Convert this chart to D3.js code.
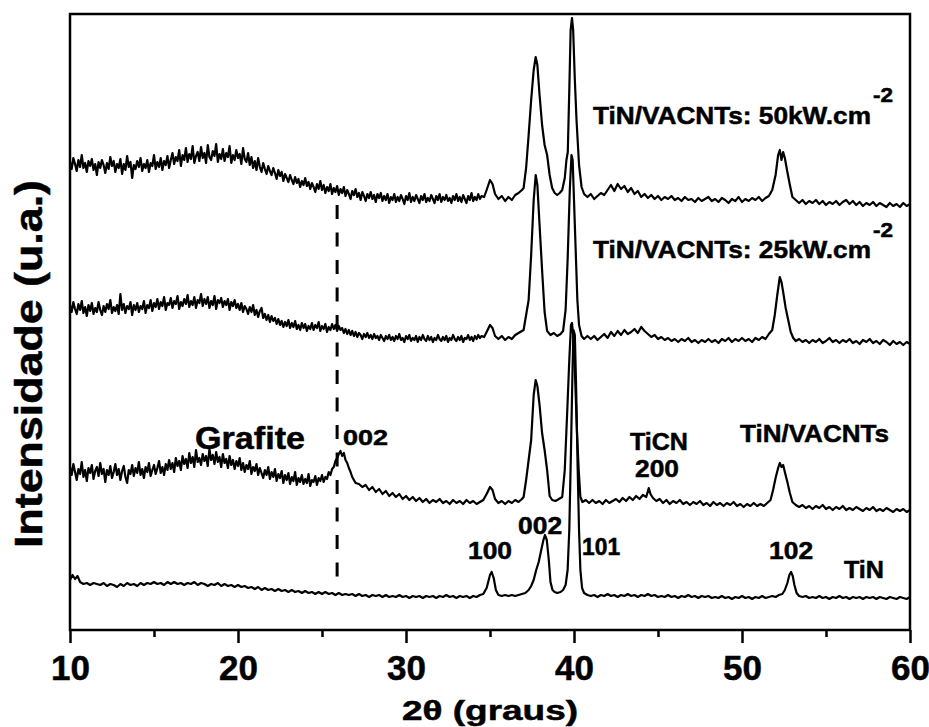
<!DOCTYPE html>
<html>
<head>
<meta charset="utf-8">
<script src="https://cdn.jsdelivr.net/npm/d3@7"></script>
<style>
  html, body { margin: 0; padding: 0; background: #fff; }
  svg { display: block; }
  text { font-family: "Liberation Sans", Arial, sans-serif; font-weight: bold; fill: #000; stroke: #000; stroke-width: 0.5px; }
</style>
</head>
<body>
<svg id="chart" width="929" height="727"></svg>
<script>
// ---------------- DATA (2θ in degrees, intensity in arbitrary units incl. vertical offset) ----------------
const xTicksMajor = [10, 20, 30, 40, 50, 60];
const xTicksMinor = [15, 25, 35, 45, 55];

const tinVacnt50 = [
 [10.0,468],[10.1,461],[10.2,472],[10.3,466],[10.4,459],[10.5,470],[10.6,463],[10.7,475],[10.8,462],[10.9,467],
 [11.0,458],[11.1,469],[11.2,464],[11.3,471],[11.4,460],[11.5,466],[11.6,455],[11.7,468],[11.8,462],[11.9,470],
 [12.0,465],[12.1,457],[12.2,467],[12.3,461],[12.4,473],[12.5,464],[12.6,469],[12.7,458],[12.8,466],[12.9,462],
 [13.0,471],[13.1,456],[13.2,466],[13.3,460],[13.4,474],[13.5,463],[13.6,468],[13.7,452],[13.8,465],[13.9,461],
 [14.0,469],[14.1,463],[14.2,472],[14.3,459],[14.4,466],[14.5,462],[14.6,470],[14.7,458],[14.8,467],[14.9,464],
 [15.0,475],[15.1,461],[15.2,468],[15.3,463],[15.4,472],[15.5,460],[15.6,469],[15.7,465],[15.8,474],[15.9,462],
 [16.0,470],[16.1,477],[16.2,466],[16.3,473],[16.4,469],[16.5,480],[16.6,464],[16.7,475],[16.8,470],[16.9,482],
 [17.0,468],[17.1,476],[17.2,471],[17.3,484],[17.4,467],[17.5,474],[17.6,478],[17.7,469],[17.8,483],[17.9,472],
 [18.0,477],[18.1,467],[18.2,485],[18.3,473],[18.4,470],[18.5,479],[18.6,474],[18.7,486],[18.8,468],[18.9,476],
 [19.0,471],[19.1,481],[19.2,469],[19.3,477],[19.4,473],[19.5,484],[19.6,467],[19.7,475],[19.8,470],[19.9,480],
 [20.0,472],[20.1,476],[20.2,466],[20.3,482],[20.4,471],[20.5,468],[20.6,477],[20.7,465],[20.8,473],[20.9,462],
 [21.0,469],[21.1,460],[21.2,472],[21.3,463],[21.4,458],[21.5,467],[21.6,461],[21.7,456],[21.8,464],[21.9,459],
 [22.0,455],[22.1,462],[22.2,457],[22.3,451],[22.4,460],[22.5,454],[22.6,458],[22.7,449],[22.8,456],[22.9,452],
 [23.0,448],[23.1,455],[23.2,450],[23.3,446],[23.4,453],[23.5,447],[23.6,451],[23.7,443],[23.8,449],[23.9,445],
 [24.0,452],[24.1,444],[24.2,448],[24.3,441],[24.4,447],[24.5,443],[24.6,438],[24.7,446],[24.8,441],[24.9,449],
 [25.0,440],[25.1,445],[25.2,437],[25.3,443],[25.4,439],[25.5,446],[25.6,436],[25.7,442],[25.8,438],[25.9,444],
 [26.0,435],[26.1,441],[26.2,437],[26.3,443],[26.4,434],[26.5,440],[26.6,436],[26.7,431],[26.8,439],[26.9,435],
 [27.0,441],[27.1,433],[27.2,437],[27.3,430],[27.4,438],[27.5,434],[27.6,429],[27.7,436],[27.8,432],[27.9,438],
 [28.0,431],[28.1,435],[28.2,428],[28.3,436],[28.4,432],[28.5,437],[28.6,429],[28.7,434],[28.8,430],[28.9,436],
 [29.0,427],[29.1,433],[29.2,430],[29.3,436],[29.4,428],[29.5,433],[29.6,429],[29.7,435],[29.8,431],[29.9,426],
 [30.0,434],[30.1,430],[30.2,437],[30.3,428],[30.4,433],[30.5,429],[30.6,435],[30.7,431],[30.8,427],[30.9,434],
 [31.0,430],[31.1,436],[31.2,428],[31.3,432],[31.4,429],[31.5,435],[31.6,431],[31.7,427],[31.8,434],[31.9,430],
 [32.0,436],[32.1,428],[32.2,433],[32.3,430],[32.4,435],[32.5,429],[32.6,432],[32.7,427],[32.8,434],[32.9,430],
 [33.0,436],[33.1,429],[33.2,433],[33.3,428],[33.4,435],[33.5,431],[33.6,427],[33.7,434],[33.8,430],[33.9,437],
 [34.0,429],[34.1,433],[34.2,430],[34.3,436],[34.4,431],[34.5,434],[34.65,433],[34.8,440],[35.0,450],[35.15,446],
 [35.3,436],[35.5,431],[35.7,434],[35.9,429],[36.1,433],[36.3,430],[36.5,435],[36.7,437],[36.9,440],[37.0,442],
 [37.15,462],[37.3,495],[37.45,530],[37.6,560],[37.72,573],[37.82,565],[37.95,535],[38.1,505],[38.25,485],[38.4,475],
 [38.55,455],[38.7,442],[38.85,437],[39.0,435],[39.15,437],[39.3,440],[39.45,452],[39.55,470],[39.63,478],[39.72,540],
 [39.8,600],[39.88,612],[39.95,600],[40.05,550],[40.15,510],[40.3,465],[40.45,443],[40.6,436],[40.8,433],[41.0,436],
 [41.2,431],[41.4,434],[41.6,437],[41.8,435],[42.0,440],[42.2,445],[42.4,439],[42.6,446],[42.8,441],[43.0,444],
 [43.2,438],[43.4,442],[43.6,436],[43.8,439],[44.0,433],[44.2,436],[44.4,432],[44.6,435],[44.8,431],[45.0,434],
 [45.2,430],[45.4,433],[45.6,431],[45.8,434],[46.0,430],[46.2,432],[46.4,429],[46.6,433],[46.8,430],[47.0,431],
 [47.2,428],[47.4,432],[47.6,429],[47.8,431],[48.0,433],[48.2,429],[48.4,431],[48.6,428],[48.8,432],[49.0,430],
 [49.2,427],[49.4,431],[49.6,429],[49.8,433],[50.0,428],[50.2,431],[50.4,429],[50.6,432],[50.8,430],[51.0,433],
 [51.2,429],[51.4,432],[51.6,434],[51.8,440],[52.0,455],[52.15,475],[52.25,480],[52.35,470],[52.45,478],[52.55,472],
 [52.7,458],[52.85,445],[53.0,433],[53.2,430],[53.4,427],[53.6,430],[53.8,426],[54.0,429],[54.2,427],[54.4,430],
 [54.6,426],[54.8,429],[55.0,425],[55.2,428],[55.4,426],[55.6,429],[55.8,425],[56.0,428],[56.2,430],[56.4,426],
 [56.6,429],[56.8,425],[57.0,428],[57.2,424],[57.4,427],[57.6,425],[57.8,428],[58.0,424],[58.2,427],[58.4,425],
 [58.6,423],[58.8,427],[59.0,424],[59.2,426],[59.4,423],[59.6,427],[59.8,424],[60.0,426]
];

const tinVacnt25 = [
 [10.0,325],[10.1,318],[10.2,328],[10.3,321],[10.4,316],[10.5,326],[10.6,320],[10.7,329],[10.8,317],[10.9,323],
 [11.0,314],[11.1,325],[11.2,319],[11.3,327],[11.4,316],[11.5,322],[11.6,318],[11.7,328],[11.8,320],[11.9,315],
 [12.0,324],[12.1,318],[12.2,326],[12.3,321],[12.4,330],[12.5,317],[12.6,323],[12.7,319],[12.8,325],[12.9,316],
 [13.0,336],[13.1,320],[13.2,326],[13.3,317],[13.4,324],[13.5,321],[13.6,328],[13.7,315],[13.8,325],[13.9,320],
 [14.0,327],[14.1,318],[14.2,324],[14.3,321],[14.4,329],[14.5,317],[14.6,325],[14.7,322],[14.8,330],[14.9,319],
 [15.0,327],[15.1,323],[15.2,331],[15.3,321],[15.4,328],[15.5,324],[15.6,333],[15.7,320],[15.8,327],[15.9,325],
 [16.0,332],[16.1,322],[16.2,329],[16.3,326],[16.4,334],[16.5,321],[16.6,328],[16.7,324],[16.8,331],[16.9,326],
 [17.0,335],[17.1,323],[17.2,329],[17.3,325],[17.4,333],[17.5,322],[17.6,330],[17.7,327],[17.8,336],[17.9,324],
 [18.0,331],[18.1,326],[18.2,333],[18.3,322],[18.4,329],[18.5,325],[18.6,334],[18.7,321],[18.8,330],[18.9,327],
 [19.0,332],[19.1,323],[19.2,329],[19.3,325],[19.4,331],[19.5,320],[19.6,328],[19.7,324],[19.8,330],[19.9,322],
 [20.0,326],[20.1,320],[20.2,327],[20.3,318],[20.4,324],[20.5,321],[20.6,316],[20.7,323],[20.8,318],[20.9,325],
 [21.0,315],[21.1,320],[21.2,313],[21.3,319],[21.4,322],[21.5,312],[21.6,316],[21.7,310],[21.8,315],[21.9,308],
 [22.0,314],[22.1,309],[22.2,312],[22.3,306],[22.4,311],[22.5,305],[22.6,309],[22.7,303],[22.8,308],[22.9,304],
 [23.0,310],[23.1,302],[23.2,307],[23.3,303],[23.4,309],[23.5,301],[23.6,305],[23.7,300],[23.8,307],[23.9,302],
 [24.0,306],[24.1,299],[24.2,304],[24.3,301],[24.4,307],[24.5,300],[24.6,305],[24.7,302],[24.8,308],[24.9,299],
 [25.0,304],[25.1,301],[25.2,306],[25.3,298],[25.4,303],[25.5,300],[25.6,306],[25.7,301],[25.8,305],[25.9,299],
 [26.0,304],[26.1,300],[26.2,302],[26.3,297],[26.4,301],[26.5,296],[26.6,300],[26.7,295],[26.8,299],[26.9,294],
 [27.0,298],[27.1,293],[27.2,297],[27.3,295],[27.4,291],[27.5,296],[27.6,293],[27.7,297],[27.8,292],[27.9,295],
 [28.0,291],[28.1,296],[28.2,292],[28.3,294],[28.4,290],[28.5,295],[28.6,292],[28.7,289],[28.8,294],[28.9,291],
 [29.0,295],[29.1,290],[29.2,293],[29.3,289],[29.4,294],[29.5,291],[29.6,296],[29.7,290],[29.8,292],[29.9,288],
 [30.0,294],[30.1,291],[30.2,295],[30.3,289],[30.4,292],[30.5,290],[30.6,294],[30.7,288],[30.8,293],[30.9,290],
 [31.0,295],[31.1,291],[31.2,289],[31.3,294],[31.4,290],[31.5,293],[31.6,288],[31.7,292],[31.8,290],[31.9,295],
 [32.0,291],[32.1,289],[32.2,293],[32.3,290],[32.4,294],[32.5,288],[32.6,292],[32.7,290],[32.8,295],[32.9,291],
 [33.0,289],[33.1,293],[33.2,290],[33.3,294],[33.4,288],[33.5,292],[33.6,291],[33.7,295],[33.8,290],[33.9,293],
 [34.0,289],[34.1,294],[34.2,291],[34.3,295],[34.4,292],[34.5,294],[34.65,293],[34.8,298],[35.0,305],[35.15,302],
 [35.3,294],[35.5,291],[35.7,294],[35.9,290],[36.1,293],[36.3,291],[36.5,295],[36.7,297],[37.0,300],[37.15,315],
 [37.3,330],[37.45,375],[37.6,430],[37.72,455],[37.82,445],[37.95,405],[38.1,360],[38.25,318],[38.4,299],[38.6,295],
 [38.8,297],[39.0,294],[39.2,296],[39.35,299],[39.5,320],[39.62,370],[39.75,440],[39.85,475],[39.92,470],[40.0,430],
 [40.1,380],[40.2,330],[40.3,305],[40.45,294],[40.6,291],[40.8,294],[41.0,291],[41.2,294],[41.4,290],[41.6,293],
 [41.8,296],[42.0,292],[42.2,298],[42.4,294],[42.6,299],[42.8,295],[43.0,300],[43.2,296],[43.4,298],[43.6,301],
 [43.8,297],[44.0,303],[44.2,299],[44.4,296],[44.6,293],[44.8,295],[45.0,291],[45.2,293],[45.4,290],[45.6,292],
 [45.8,289],[46.0,291],[46.2,288],[46.4,291],[46.6,289],[46.8,292],[47.0,288],[47.2,290],[47.4,287],[47.6,290],
 [47.8,288],[48.0,291],[48.2,288],[48.4,290],[48.6,287],[48.8,291],[49.0,289],[49.2,292],[49.4,288],[49.6,291],
 [49.8,289],[50.0,292],[50.2,289],[50.4,291],[50.6,288],[50.8,292],[51.0,290],[51.2,293],[51.4,291],[51.6,296],
 [51.8,300],[51.95,315],[52.1,335],[52.25,353],[52.35,348],[52.45,338],[52.6,322],[52.75,310],[52.9,298],[53.05,292],
 [53.2,289],[53.4,291],[53.6,288],[53.8,290],[54.0,287],[54.2,290],[54.4,288],[54.6,291],[54.8,287],[55.0,289],
 [55.2,292],[55.4,288],[55.6,290],[55.8,287],[56.0,290],[56.2,288],[56.4,291],[56.6,287],[56.8,289],[57.0,286],
 [57.2,290],[57.4,288],[57.6,291],[57.8,287],[58.0,289],[58.2,286],[58.4,290],[58.6,288],[58.8,285],[59.0,289],
 [59.2,286],[59.4,288],[59.6,285],[59.8,288],[60.0,286]
];

const tinVacnt = [
 [10.0,163],[10.1,155],[10.2,166],[10.3,158],[10.4,150],[10.5,161],[10.6,156],[10.7,168],[10.8,153],[10.9,160],
 [11.0,149],[11.1,162],[11.2,157],[11.3,165],[11.4,151],[11.5,159],[11.6,163],[11.7,154],[11.8,167],[11.9,156],
 [12.0,161],[12.1,148],[12.2,160],[12.3,155],[12.4,164],[12.5,152],[12.6,158],[12.7,166],[12.8,155],[12.9,161],
 [13.0,150],[13.1,159],[13.2,164],[13.3,153],[13.4,147],[13.5,160],[13.6,156],[13.7,165],[13.8,154],[13.9,162],
 [14.0,157],[14.1,168],[14.2,155],[14.3,161],[14.4,152],[14.5,163],[14.6,158],[14.7,167],[14.8,154],[14.9,160],
 [15.0,165],[15.1,156],[15.2,162],[15.3,169],[15.4,157],[15.5,163],[15.6,155],[15.7,166],[15.8,160],[15.9,170],
 [16.0,161],[16.1,167],[16.2,158],[16.3,172],[16.4,164],[16.5,169],[16.6,160],[16.7,174],[16.8,166],[16.9,171],
 [17.0,162],[17.1,177],[17.2,167],[17.3,173],[17.4,163],[17.5,180],[17.6,168],[17.7,172],[17.8,165],[17.9,176],
 [18.0,169],[18.1,174],[18.2,164],[18.3,181],[18.4,170],[18.5,175],[18.6,166],[18.7,178],[18.8,168],[18.9,173],
 [19.0,163],[19.1,176],[19.2,167],[19.3,171],[19.4,162],[19.5,174],[19.6,165],[19.7,170],[19.8,161],[19.9,169],
 [20.0,164],[20.1,172],[20.2,160],[20.3,167],[20.4,158],[20.5,165],[20.6,161],[20.7,169],[20.8,156],[20.9,163],
 [21.0,159],[21.1,166],[21.2,155],[21.3,162],[21.4,157],[21.5,152],[21.6,160],[21.7,155],[21.8,163],[21.9,151],
 [22.0,158],[22.1,153],[22.2,161],[22.3,149],[22.4,156],[22.5,152],[22.6,159],[22.7,147],[22.8,155],[22.9,150],
 [23.0,157],[23.1,146],[23.2,153],[23.3,149],[23.4,158],[23.5,145],[23.6,152],[23.7,148],[23.8,155],[23.9,146],
 [24.0,151],[24.1,147],[24.2,156],[24.3,144],[24.4,150],[24.5,148],[24.6,154],[24.7,145],[24.8,152],[24.9,149],
 [25.0,155],[25.1,148],[25.2,153],[25.3,151],[25.4,158],[25.5,155],[25.6,161],[25.7,163],[25.8,169],[25.9,172],
 [26.0,176],[26.1,179],[26.2,174],[26.3,177],[26.4,170],[26.5,167],[26.6,162],[26.7,158],[26.8,153],[26.9,150],
 [27.0,147],[27.2,146],[27.4,143],[27.6,145],[27.8,140],[28.0,143],[28.2,138],[28.4,141],[28.6,136],[28.8,139],
 [29.0,134],[29.2,137],[29.4,133],[29.6,136],[29.8,131],[30.0,134],[30.2,130],[30.4,133],[30.6,129],[30.8,132],
 [31.0,128],[31.2,131],[31.4,127],[31.6,130],[31.8,128],[32.0,131],[32.2,127],[32.4,129],[32.6,126],[32.8,130],
 [33.0,127],[33.2,129],[33.4,126],[33.6,130],[33.8,127],[34.0,129],[34.2,126],[34.4,128],[34.6,130],[34.8,136],
 [35.0,143],[35.15,140],[35.3,131],[35.5,127],[35.7,129],[35.9,126],[36.1,129],[36.3,127],[36.5,130],[36.7,128],
 [36.9,131],[37.0,133],[37.15,150],[37.3,170],[37.45,190],[37.6,235],[37.72,250],[37.82,244],[37.95,225],[38.1,197],
 [38.25,180],[38.4,160],[38.55,134],[38.7,130],[38.9,129],[39.1,131],[39.3,133],[39.45,160],[39.6,220],[39.72,270],
 [39.82,305],[39.88,307],[39.95,295],[40.05,260],[40.18,197],[40.28,160],[40.38,133],[40.5,128],[40.7,130],[40.9,127],
 [41.1,130],[41.3,127],[41.5,129],[41.7,126],[41.9,130],[42.1,127],[42.3,129],[42.5,131],[42.7,128],[42.9,132],
 [43.1,129],[43.3,133],[43.5,130],[43.7,134],[43.9,131],[44.1,135],[44.3,133],[44.45,142],[44.55,136],[44.7,132],
 [44.9,129],[45.1,131],[45.3,127],[45.5,130],[45.7,126],[45.9,129],[46.1,127],[46.3,130],[46.5,126],[46.7,128],
 [46.9,125],[47.1,128],[47.3,126],[47.5,129],[47.7,125],[47.9,127],[48.1,124],[48.3,128],[48.5,125],[48.7,127],
 [48.9,124],[49.1,127],[49.3,125],[49.5,128],[49.7,124],[49.9,126],[50.1,123],[50.3,126],[50.5,124],[50.7,127],
 [50.9,124],[51.1,126],[51.3,124],[51.5,127],[51.7,130],[51.85,140],[52.0,152],[52.15,162],[52.25,167],[52.35,163],
 [52.45,165],[52.55,158],[52.7,148],[52.85,137],[53.0,128],[53.2,125],[53.4,123],[53.6,125],[53.8,122],[54.0,124],
 [54.2,121],[54.4,124],[54.6,122],[54.8,125],[55.0,121],[55.2,123],[55.4,120],[55.6,123],[55.8,121],[56.0,124],
 [56.2,120],[56.4,122],[56.6,120],[56.8,123],[57.0,121],[57.2,119],[57.4,122],[57.6,120],[57.8,123],[58.0,119],
 [58.2,121],[58.4,119],[58.6,122],[58.8,120],[59.0,118],[59.2,121],[59.4,119],[59.6,121],[59.8,118],[60.0,120]
];

const tin = [
 [10.0,50],[10.15,55],[10.3,51],[10.45,54],[10.6,48],[10.8,46],[11.0,47],[11.2,45],[11.4,47],[11.6,46],
 [11.8,45],[12.0,47],[12.2,44],[12.4,46],[12.6,45],[12.8,43],[13.0,46],[13.2,44],[13.4,47],[13.6,45],
 [13.8,46],[14.0,44],[14.2,47],[14.4,45],[14.6,47],[14.8,46],[15.0,48],[15.2,46],[15.4,47],[15.6,45],
 [15.8,48],[16.0,46],[16.2,48],[16.4,46],[16.6,47],[16.8,45],[17.0,47],[17.2,46],[17.4,48],[17.6,45],
 [17.8,47],[18.0,46],[18.2,44],[18.4,46],[18.6,45],[18.8,47],[19.0,44],[19.2,46],[19.4,44],[19.6,45],
 [19.8,43],[20.0,45],[20.2,43],[20.4,44],[20.6,42],[20.8,43],[21.0,41],[21.2,43],[21.4,40],[21.6,42],
 [21.8,40],[22.0,41],[22.2,39],[22.4,41],[22.6,39],[22.8,40],[23.0,38],[23.2,40],[23.4,38],[23.6,39],
 [23.8,37],[24.0,39],[24.2,37],[24.4,38],[24.6,36],[24.8,38],[25.0,36],[25.2,38],[25.4,36],[25.6,37],
 [25.8,35],[26.0,37],[26.2,35],[26.4,36],[26.6,35],[26.8,36],[27.0,34],[27.2,36],[27.4,34],[27.6,35],
 [27.8,33],[28.0,35],[28.2,34],[28.4,35],[28.6,33],[28.8,35],[29.0,33],[29.2,34],[29.4,33],[29.6,35],
 [29.8,33],[30.0,34],[30.2,32],[30.4,34],[30.6,33],[30.8,34],[31.0,32],[31.2,34],[31.4,33],[31.6,34],
 [31.8,32],[32.0,34],[32.2,33],[32.4,35],[32.6,33],[32.8,34],[33.0,32],[33.2,34],[33.4,33],[33.6,34],
 [33.8,32],[34.0,34],[34.2,33],[34.4,35],[34.6,36],[34.8,42],[35.0,55],[35.1,58],[35.22,52],[35.35,40],
 [35.5,35],[35.7,34],[35.9,35],[36.1,34],[36.3,35],[36.5,34],[36.7,35],[36.9,36],[37.1,37],[37.3,40],
 [37.45,44],[37.6,50],[37.75,60],[37.9,68],[38.05,80],[38.18,90],[38.27,95],[38.38,90],[38.5,70],[38.6,48],
 [38.72,40],[38.85,38],[39.0,37],[39.2,38],[39.35,40],[39.5,45],[39.62,60],[39.72,100],[39.82,180],[39.9,250],
 [39.97,300],[40.05,295],[40.13,240],[40.22,160],[40.3,100],[40.38,60],[40.48,42],[40.6,37],[40.8,35],[41.0,34],
 [41.2,35],[41.4,33],[41.6,35],[41.8,34],[42.0,36],[42.2,34],[42.4,35],[42.6,33],[42.8,35],[43.0,34],
 [43.2,36],[43.4,34],[43.6,35],[43.8,33],[44.0,35],[44.2,34],[44.4,36],[44.6,34],[44.8,35],[45.0,33],
 [45.2,34],[45.4,33],[45.6,35],[45.8,33],[46.0,34],[46.2,32],[46.4,34],[46.6,33],[46.8,35],[47.0,33],
 [47.2,34],[47.4,32],[47.6,34],[47.8,33],[48.0,34],[48.2,32],[48.4,33],[48.6,32],[48.8,34],[49.0,32],
 [49.2,33],[49.4,31],[49.6,33],[49.8,32],[50.0,34],[50.2,32],[50.4,33],[50.6,31],[50.8,33],[51.0,32],
 [51.2,34],[51.4,32],[51.6,33],[51.8,34],[52.0,33],[52.2,35],[52.4,36],[52.55,40],[52.7,47],[52.82,55],
 [52.92,58],[53.02,54],[53.12,45],[53.25,37],[53.4,34],[53.6,33],[53.8,34],[54.0,32],[54.2,33],[54.4,32],
 [54.6,34],[54.8,32],[55.0,33],[55.2,31],[55.4,33],[55.6,32],[55.8,34],[56.0,32],[56.2,33],[56.4,31],
 [56.6,33],[56.8,32],[57.0,33],[57.2,31],[57.4,33],[57.6,32],[57.8,33],[58.0,31],[58.2,33],[58.4,32],
 [58.6,31],[58.8,33],[59.0,32],[59.2,31],[59.4,33],[59.6,32],[59.8,31],[60.0,33]
];

const series = [tinVacnt50, tinVacnt25, tinVacnt, tin];

// graphite (002) reference line: [2θ, lower intensity, upper intensity]
const grafiteLine = [25.9, 52, 425];

// annotations: [text, 2θ (left edge), intensity (baseline), font size, text width]
const annotations = [
  ["TiN/VACNTs: 50kW.cm", 41.13, 506, 24, 278],
  ["TiN/VACNTs: 25kW.cm", 41.13, 372, 24, 278],
  ["TiN/VACNTs", 49.88, 188, 24, 149],
  ["TiCN", 43.33, 180, 24, 58],
  ["200", 43.63, 153, 24, 44],
  ["Grafite", 17.44, 181, 32, 110],
  ["002", 26.25, 185, 22, 45],
  ["100", 33.69, 71, 23, 44],
  ["002", 36.67, 96, 23, 44],
  ["101", 40.48, 75, 23, 38],
  ["102", 51.61, 71, 23, 44],
  ["TiN", 56.07, 52, 23, 40]
];
const superscripts = [
  ["-2", 57.8, 528, 20, 20],
  ["-2", 57.8, 393, 20, 20]
];

const xTitle = "2θ (graus)";
const yTitle = "Intensidade (u.a.)";

// ---------------- CHART ----------------
const svg = d3.select("#chart");
const frame = { left: 70, right: 910, top: 14, bottom: 630 };

const x = d3.scaleLinear().domain([10, 60]).range([frame.left, frame.right]);
const y = d3.scaleLinear().domain([0, 616]).range([frame.bottom, frame.top]);

const line = d3.line().x(d => x(d[0])).y(d => y(d[1]));

// traces
svg.append("g")
  .selectAll("path")
  .data(series)
  .join("path")
  .attr("d", line)
  .attr("fill", "none")
  .attr("stroke", "#000")
  .attr("stroke-width", 2.2)
  .attr("stroke-linejoin", "round");

// dashed graphite line
svg.append("line")
  .attr("x1", x(grafiteLine[0])).attr("x2", x(grafiteLine[0]))
  .attr("y1", y(grafiteLine[2])).attr("y2", y(grafiteLine[1]))
  .attr("stroke", "#000")
  .attr("stroke-width", 3)
  .attr("stroke-dasharray", "14,13.5");

// frame
svg.append("rect")
  .attr("x", frame.left).attr("y", frame.top)
  .attr("width", frame.right - frame.left)
  .attr("height", frame.bottom - frame.top)
  .attr("fill", "none")
  .attr("stroke", "#000")
  .attr("stroke-width", 2.5);

// x axis: major
const axMajor = svg.append("g")
  .attr("transform", `translate(0,${frame.bottom})`)
  .call(d3.axisBottom(x).tickValues(xTicksMajor).tickSize(13).tickFormat(d3.format("d")));
axMajor.select(".domain").remove();
axMajor.selectAll(".tick line").attr("stroke", "#000").attr("stroke-width", 2.5);
axMajor.selectAll(".tick text")
  .attr("y", 50).attr("dy", null)
  .style("font-size", "35px")
  .style("font-family", "'Liberation Sans', Arial, sans-serif")
  .style("font-weight", "bold")
  .attr("fill", "#000");

// x axis: minor
const axMinor = svg.append("g")
  .attr("transform", `translate(0,${frame.bottom})`)
  .call(d3.axisBottom(x).tickValues(xTicksMinor).tickSize(7).tickFormat(""));
axMinor.select(".domain").remove();
axMinor.selectAll(".tick line").attr("stroke", "#000").attr("stroke-width", 2.5);

// axis titles
svg.append("text")
  .attr("x", 490).attr("y", 720)
  .attr("text-anchor", "middle")
  .attr("textLength", 176).attr("lengthAdjust", "spacingAndGlyphs")
  .style("font-size", "28px")
  .text(xTitle);

svg.append("text")
  .attr("transform", "translate(42,364) rotate(-90)")
  .attr("text-anchor", "middle")
  .attr("textLength", 368).attr("lengthAdjust", "spacingAndGlyphs")
  .style("font-size", "39px")
  .text(yTitle);

// annotations
svg.append("g").selectAll("text")
  .data(annotations)
  .join("text")
  .attr("x", d => x(d[1]))
  .attr("y", d => y(d[2]))
  .attr("textLength", d => d[4]).attr("lengthAdjust", "spacingAndGlyphs")
  .style("font-size", d => d[3] + "px")
  .text(d => d[0]);

svg.append("g").selectAll("text")
  .data(superscripts)
  .join("text")
  .attr("x", d => x(d[1]))
  .attr("y", d => y(d[2]))
  .attr("textLength", d => d[4]).attr("lengthAdjust", "spacingAndGlyphs")
  .style("font-size", d => d[3] + "px")
  .text(d => d[0]);
</script>
</body>
</html>
